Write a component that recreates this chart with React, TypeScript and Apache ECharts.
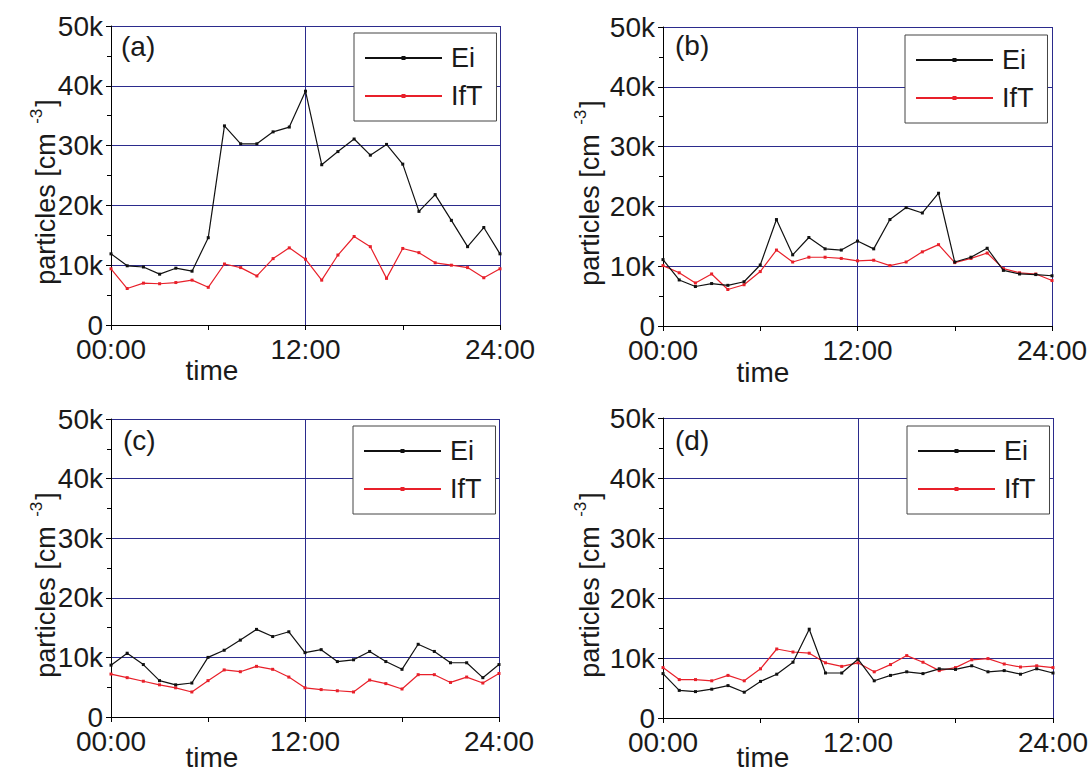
import React, { useEffect, useRef } from "react";
import * as echarts from "echarts";

const HOURS = [0, 1, 2, 3, 4, 5, 6, 7, 8, 9, 10, 11, 12, 13, 14, 15, 16, 17, 18, 19, 20, 21, 22, 23, 24];
const X_TICK_LABELS = ["00:00", "12:00", "24:00"];
const PANEL_LABELS = ["(a)", "(b)", "(c)", "(d)"];
const SERIES_NAMES = ["Ei", "IfT"];

const A_EI = [11900, 9900, 9700, 8500, 9500, 9000, 14600, 33300, 30300, 30300, 32300, 33100, 39100, 26800, 29000, 31100, 28400, 30200, 26900, 19000, 21800, 17500, 13100, 16300, 11900];
const A_IFT = [9400, 6100, 7000, 6900, 7100, 7500, 6300, 10200, 9600, 8200, 11100, 12900, 11000, 7500, 11700, 14800, 13100, 7800, 12800, 12100, 10400, 10000, 9600, 7900, 9400];

const B_EI = [11100, 7700, 6600, 7100, 6800, 7400, 10200, 17800, 11900, 14800, 12900, 12700, 14200, 12900, 17800, 19800, 18900, 22200, 10700, 11500, 13000, 9300, 8700, 8600, 8400];
const B_IFT = [10100, 8900, 7200, 8700, 6100, 6900, 9100, 12700, 10700, 11500, 11500, 11300, 10900, 11000, 10100, 10700, 12400, 13600, 10600, 11300, 12200, 9600, 8900, 8700, 7600];

const C_EI = [8700, 10700, 8800, 6100, 5400, 5700, 10000, 11200, 12900, 14700, 13500, 14300, 10800, 11300, 9300, 9600, 11000, 9300, 8000, 12200, 11000, 9100, 9100, 6600, 8800];
const C_IFT = [7200, 6600, 6000, 5400, 4900, 4200, 6100, 7900, 7600, 8500, 8000, 6700, 4900, 4600, 4400, 4200, 6200, 5600, 4700, 7100, 7100, 5800, 6700, 5700, 7300];

const D_EI = [7400, 4600, 4400, 4800, 5400, 4300, 6100, 7300, 9300, 14800, 7500, 7500, 9800, 6200, 7100, 7700, 7400, 8200, 8100, 8700, 7700, 7900, 7300, 8200, 7500];
const D_IFT = [8400, 6400, 6400, 6200, 7100, 6200, 8200, 11500, 11000, 10800, 9200, 8600, 9200, 7700, 8900, 10400, 9300, 7900, 8400, 9700, 9900, 9000, 8500, 8700, 8400];

const PANEL_DATA = [
  [A_EI, A_IFT],
  [B_EI, B_IFT],
  [C_EI, C_IFT],
  [D_EI, D_IFT],
];

const FONT = "'Liberation Sans', Arial, Helvetica, sans-serif";
const GRID_COLOR = "#2b2b8c";
const LINE_COLORS = ["#111111", "#e8202a"];

const GRIDS = [
  { left: 111, top: 26, width: 389, height: 299 },
  { left: 663, top: 27, width: 389, height: 299 },
  { left: 111, top: 419, width: 388, height: 298 },
  { left: 663, top: 418, width: 390, height: 300 },
];
const LEGEND_POS = [
  { left: 354, top: 33 },
  { left: 905, top: 35 },
  { left: 353, top: 426 },
  { left: 907, top: 426 },
];
const TIME_POS = [
  { x: 212, y: 370 },
  { x: 763, y: 372 },
  { x: 212, y: 757 },
  { x: 763, y: 757 },
];
const YNAME_POS = [
  { x: 46, y: 192 },
  { x: 590, y: 193 },
  { x: 46, y: 585 },
  { x: 590, y: 585 },
];
const LABEL_POS = [
  { x: 121, y: 46 },
  { x: 675, y: 45 },
  { x: 123, y: 440 },
  { x: 675, y: 440 },
];

function xLabel(v: number): string {
  const idx = [0, 12, 24].indexOf(v);
  return idx >= 0 ? X_TICK_LABELS[idx] : "";
}

export default function App() {
  const ref = useRef<HTMLDivElement>(null);
  useEffect(() => {
    if (!ref.current) return;
    const chart = echarts.init(ref.current, undefined, { renderer: "svg" });

    const grid = GRIDS.map((g) => ({ ...g, containLabel: false }));
    const xAxis = GRIDS.map((_, i) => ({
      type: "value",
      gridIndex: i,
      min: 0,
      max: 24,
      interval: 12,
      axisLine: { show: true, onZero: false, lineStyle: { color: "#000", width: 1 } },
      axisTick: { show: true, inside: false, length: 5, lineStyle: { color: "#000" } },
      minorTick: { show: true, splitNumber: 2, length: 5, lineStyle: { color: "#000" } },
      axisLabel: {
        formatter: xLabel,
        fontSize: 28,
        fontFamily: FONT,
        color: "#1a1a1a",
        margin: 14,
        lineHeight: 20,
      },
      splitLine: { show: true, lineStyle: { color: GRID_COLOR, width: 1 } },
      minorSplitLine: { show: false },
    }));
    const yAxis = GRIDS.map((_, i) => ({
      type: "value",
      gridIndex: i,
      min: 0,
      max: 50000,
      interval: 10000,
      axisLine: { show: true, onZero: false, lineStyle: { color: "#000", width: 1 } },
      axisTick: { show: true, inside: false, length: 5, lineStyle: { color: "#000" } },
      minorTick: { show: true, splitNumber: 2, length: 4, lineStyle: { color: "#000" } },
      axisLabel: {
        formatter: (v: number) => (v === 0 ? "0" : v / 1000 + "k"),
        fontSize: 28,
        fontFamily: FONT,
        color: "#1a1a1a",
        margin: 8,
        lineHeight: 20,
      },
      splitLine: { show: true, lineStyle: { color: GRID_COLOR, width: 1 } },
    }));

    const series: any[] = [];
    PANEL_DATA.forEach((pair, p) => {
      pair.forEach((vals, s) => {
        series.push({
          type: "line",
          name: SERIES_NAMES[s],
          xAxisIndex: p,
          yAxisIndex: p,
          data: HOURS.map((h, k) => [h, vals[k]]),
          symbol: "rect",
          symbolSize: 3,
          showSymbol: true,
          lineStyle: { color: LINE_COLORS[s], width: 1.2 },
          itemStyle: { color: LINE_COLORS[s] },
          z: s === 0 ? 3 : 2,
        });
      });
    });

    const legend = LEGEND_POS.map((pos) => ({
      data: SERIES_NAMES,
      orient: "vertical",
      left: pos.left,
      top: pos.top,
      backgroundColor: "#fff",
      borderColor: "#444",
      borderWidth: 1,
      padding: [10, 14, 10, 10],
      itemWidth: 77,
      itemHeight: 5,
      itemGap: 8,
      selectedMode: false,
      textStyle: { fontSize: 27, fontFamily: FONT, color: "#1a1a1a", lineHeight: 30, padding: [0, 0, 0, 4] },
    }));

    const graphic: any[] = [];
    TIME_POS.forEach((pos) => {
      graphic.push({
        type: "text",
        x: pos.x,
        y: pos.y,
        style: { text: "time", fontSize: 28, fontFamily: FONT, lineHeight: 22, fill: "#1a1a1a", align: "center", verticalAlign: "middle" },
      });
    });
    YNAME_POS.forEach((pos) => {
      graphic.push({
        type: "text",
        x: pos.x,
        y: pos.y,
        rotation: Math.PI / 2,
        style: {
          text: "particles [cm {sup|-3}]",
          fontSize: 27,
          fontFamily: FONT,
          fill: "#1a1a1a",
          align: "center",
          verticalAlign: "middle",
          rich: {
            sup: { fontSize: 17, fontFamily: FONT, fill: "#1a1a1a", verticalAlign: "top", lineHeight: 36, padding: [0, 2, 0, 2] },
          },
        },
      });
    });
    LABEL_POS.forEach((pos, i) => {
      graphic.push({
        type: "text",
        x: pos.x,
        y: pos.y,
        style: { text: PANEL_LABELS[i], font: `28px ${FONT}`, fill: "#1a1a1a", align: "left", verticalAlign: "middle" },
      });
    });

    chart.setOption({
      animation: false,
      backgroundColor: "#fff",
      grid,
      xAxis,
      yAxis,
      legend,
      series,
      graphic,
    });
    return () => chart.dispose();
  }, []);

  return (
    <div
      ref={ref}
      style={{ position: "fixed", left: 0, top: 0, width: 1091, height: 772 }}
    />
  );
}
